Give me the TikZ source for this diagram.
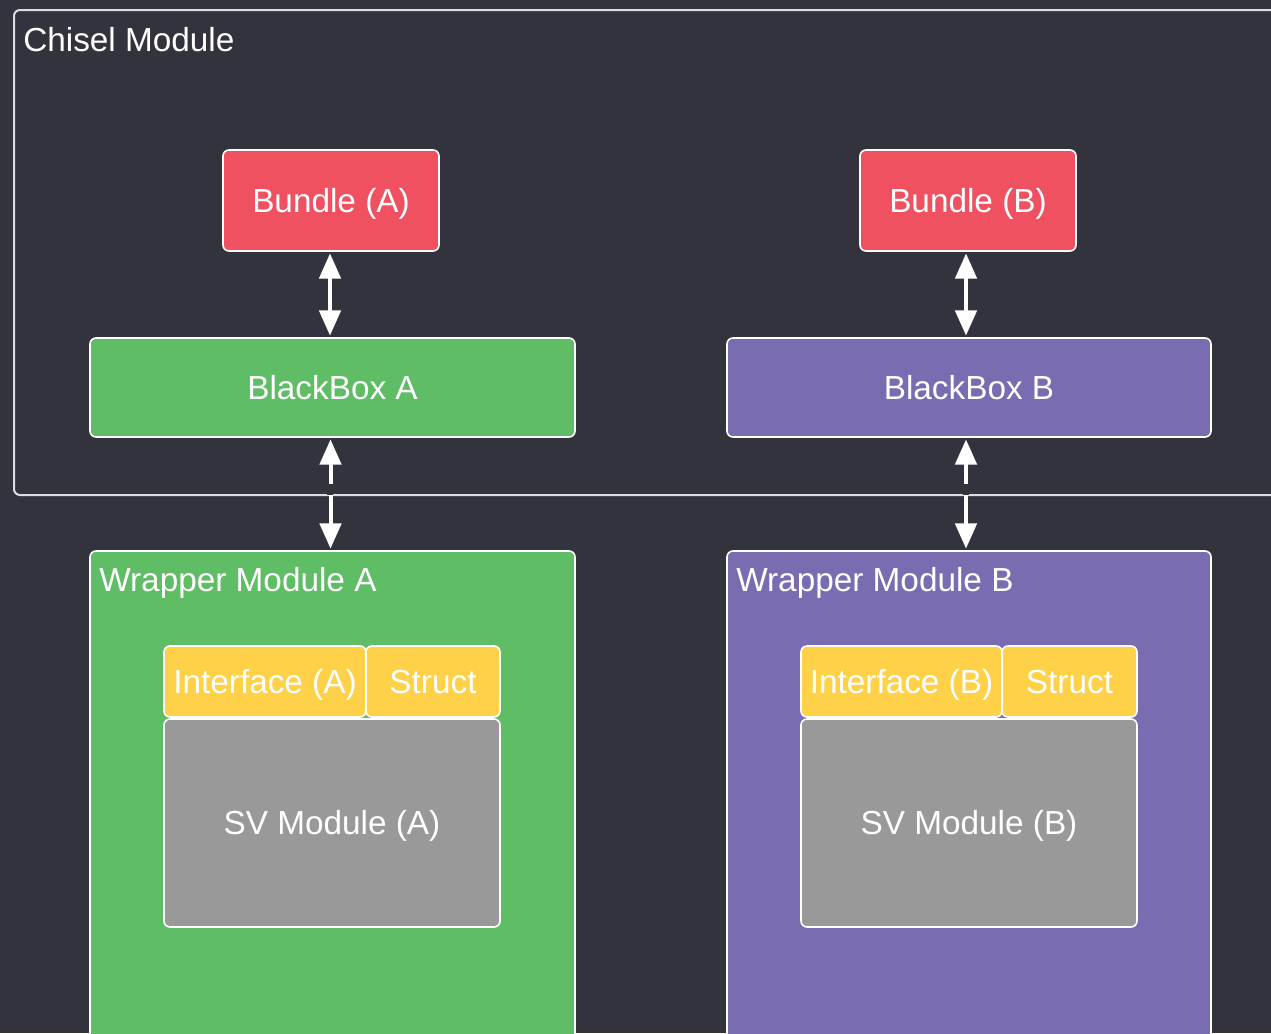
\documentclass[tikz,border=0pt]{standalone}
\usepackage{fontspec}
\setmainfont{Liberation Sans}
\usetikzlibrary{arrows.meta}
\definecolor{bgcol}{RGB}{51,51,61}
\definecolor{framecol}{RGB}{220,220,224}
\definecolor{bundlered}{RGB}{240,81,97}
\definecolor{boxgreen}{RGB}{95,189,101}
\definecolor{boxpurple}{RGB}{121,108,176}
\definecolor{ifyellow}{RGB}{255,209,72}
\definecolor{svgray}{RGB}{153,153,153}
\tikzset{
  txt/.style={text=white, font=\fontsize{25}{29}\selectfont, text height=17.9pt, text depth=0pt},
  box/.style={txt, draw=white, line width=1.2pt, rounded corners=4.5pt, inner sep=0pt, outer sep=0pt},
  frame/.style={draw=framecol, line width=1.5pt, rounded corners=4.5pt, inner sep=0pt, outer sep=0pt},
  lbl/.style={txt, anchor=west, inner sep=0pt},
  biarrow/.style={draw=white, line width=3pt, {Triangle[width=16pt,length=19pt]}-{Triangle[width=16pt,length=19pt]}, shorten <=1.8pt, shorten >=1.8pt}
}
\begin{document}
\begin{tikzpicture}[x=0.75pt, y=-0.75pt]
\clip (0,0) rectangle (1271,1033);
\fill[bgcol] (0,0) rectangle (1271,1033);

% outer Chisel module frame
\node[frame, minimum width=964.5pt, minimum height=363.75pt] (chisel) at (657,252.5) {};
\node[lbl] (chisellbl) at (23,40) {Chisel Module};

% bundles and black boxes
\node[box, fill=bundlered, minimum width=162pt, minimum height=75.75pt] (bundleA) at (331,200.5) {Bundle (A)};
\node[box, fill=bundlered, minimum width=162pt, minimum height=75.75pt] (bundleB) at (968,200.5) {Bundle (B)};
\node[box, fill=boxgreen, minimum width=363.75pt, minimum height=74.25pt] (bbA) at (332.5,387.5) {BlackBox A};
\node[box, fill=boxpurple, minimum width=363pt, minimum height=74.25pt] (bbB) at (969,387.5) {BlackBox B};

% wrapper modules
\node[box, fill=boxgreen, minimum width=363.75pt, minimum height=370.5pt] (wrapA) at (332.5,798) {};
\node[lbl] (wrapAlbl) at (99,580) {Wrapper Module A};
\node[box, fill=boxpurple, minimum width=363pt, minimum height=370.5pt] (wrapB) at (969,798) {};
\node[lbl] (wrapBlbl) at (736,580) {Wrapper Module B};

% interfaces, structs and SV modules
\node[box, fill=ifyellow, minimum width=151.5pt, minimum height=53.25pt] (ifA) at (265,681.5) {Interface (A)};
\node[box, fill=ifyellow, minimum width=100.5pt, minimum height=53.25pt] (stA) at (433,681.5) {Struct};
\node[box, fill=svgray, minimum width=252pt, minimum height=156pt] (svA) at (332,823) {SV Module (A)};
\node[box, fill=ifyellow, minimum width=150.75pt, minimum height=53.25pt] (ifB) at (901.5,681.5) {Interface (B)};
\node[box, fill=ifyellow, minimum width=101.25pt, minimum height=53.25pt] (stB) at (1069.5,681.5) {Struct};
\node[box, fill=svgray, minimum width=252pt, minimum height=156pt] (svB) at (969,823) {SV Module (B)};

% connectors (kept strictly vertical)
\draw[biarrow] ([xshift=-0.75pt]bundleA.south) -- ([xshift=-0.75pt]bundleA.south |- bbA.north);
\draw[biarrow] ([xshift=-1.5pt]bundleB.south) -- ([xshift=-1.5pt]bundleB.south |- bbB.north);
\draw[biarrow] ([xshift=-1.5pt]bbA.south) -- ([xshift=-1.5pt]wrapA.north);
\draw[biarrow] ([xshift=-2.25pt]bbB.south) -- ([xshift=-2.25pt]wrapB.north);

% break in the lower shafts just above the frame line
\draw[bgcol, line width=4pt] (330,484) -- (330,495);
\draw[bgcol, line width=4pt] (966,484) -- (966,495);
\end{tikzpicture}
\end{document}
